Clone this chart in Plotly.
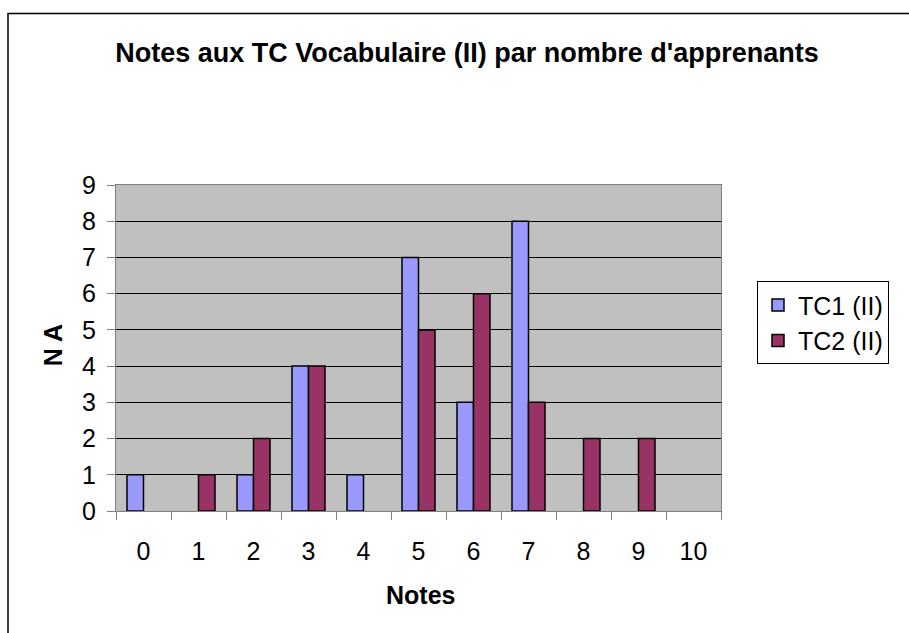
import plotly.graph_objects as go

categories = ["0", "1", "2", "3", "4", "5", "6", "7", "8", "9", "10"]
tc1 = [1, 0, 1, 4, 1, 7, 3, 8, 0, 0, 0]
tc2 = [0, 1, 2, 4, 0, 5, 6, 3, 2, 2, 0]
series_names = ["TC1 (II)", "TC2 (II)"]
title_text = "Notes aux TC Vocabulaire (II) par nombre d'apprenants"
x_title = "Notes"
y_title = "N A"

W, H = 909, 633
L, R, T, B = 116, 721, 184.7, 511
FONT = "Liberation Sans, Arial, sans-serif"

def px(x):
    return (x - L) / (R - L)

def py(y):
    return (B - y) / (B - T)

def nz(vals):
    return [v if v else None for v in vals]

fig = go.Figure()
fig.add_trace(go.Bar(x=categories, y=nz(tc1), name=series_names[0],
                     marker=dict(color="#9999FF", line=dict(color="black", width=1.5))))
fig.add_trace(go.Bar(x=categories, y=nz(tc2), name=series_names[1],
                     marker=dict(color="#993366", line=dict(color="black", width=1.5))))

fig.update_layout(
    width=W, height=H,
    margin=dict(l=L, r=W - R, t=T, b=H - B, pad=0),
    paper_bgcolor="white",
    plot_bgcolor="#C0C0C0",
    font=dict(family=FONT, size=25, color="black"),
    bargap=0.4, bargroupgap=0,
    title=dict(text="<b>" + title_text + "</b>", x=px(467), xref="paper", xanchor="center",
               y=1 - 53 / H, yref="container", yanchor="middle",
               font=dict(size=27, family=FONT, color="black")),
    legend=dict(x=px(757), y=py(281), xanchor="left", yanchor="top",
                bordercolor="black", borderwidth=1, bgcolor="white",
                font=dict(size=25, family=FONT), tracegroupgap=0),
    xaxis=dict(type="category", tickson="boundaries", ticks="outside", ticklen=8,
               tickcolor="#808080", showline=True, linecolor="#808080", mirror=True,
               showgrid=False, tickfont=dict(size=25), ticklabelstandoff=18),
    yaxis=dict(range=[0, 9], dtick=1, ticks="outside", ticklen=8, tickcolor="#808080",
               showline=True, linecolor="#808080", mirror=True,
               showgrid=True, gridcolor="black", gridwidth=1,
               zeroline=True, zerolinecolor="black", zerolinewidth=1,
               tickfont=dict(size=25), ticklabelstandoff=6),
    shapes=[dict(type="rect", xref="paper", yref="paper",
                 x0=px(8), x1=px(960), y0=py(680), y1=py(13),
                 line=dict(color="black", width=1.5), fillcolor="rgba(0,0,0,0)", layer="below")],
    annotations=[
        dict(text="<b>" + x_title + "</b>", x=px(420), y=py(595), xref="paper", yref="paper",
             xanchor="center", yanchor="middle", showarrow=False, font=dict(size=25)),
        dict(text="<b>" + y_title + "</b>", x=px(53), y=py(345), xref="paper", yref="paper",
             xanchor="center", yanchor="middle", showarrow=False, textangle=-90,
             font=dict(size=25)),
    ],
)

fig.write_html("out.html", config={"displayModeBar": False},
               post_script="document.body.style.margin='0';document.body.style.overflow='hidden';")
